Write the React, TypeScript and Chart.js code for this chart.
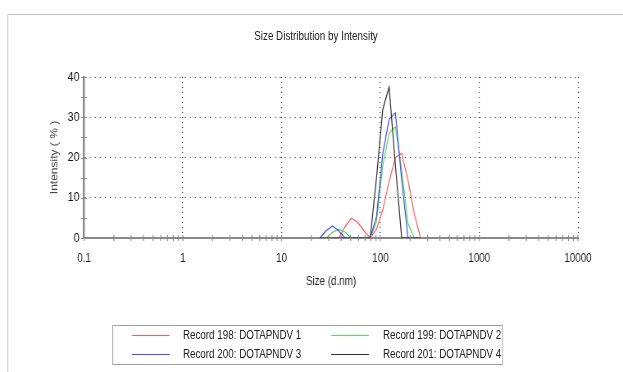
import React, { useEffect, useRef } from 'react';
import { Chart, registerables } from 'chart.js';

Chart.register(...registerables);

// ---- Data ----
const chartTitle = 'Size Distribution by Intensity';
const xAxisTitle = 'Size (d.nm)';
const yAxisTitle = 'Intensity ( % )';

const sizeBins = [24.4, 28.2, 32.7, 37.8, 43.8, 50.7, 58.8, 68.1, 78.8, 91.3, 105.7, 122.4, 141.8, 164.2, 190.1, 220.2, 255.0];
const record198 = [0, 0, 0, 0, 2.8, 4.9, 3.9, 1.8, 0, 2.2, 7, 14, 20, 21, 14.4, 6, 0];
const record199 = [0, 0, 1.4, 2.2, 1.5, 0, 0, 0, 0, 4, 18, 26, 27.6, 16.8, 3.6, 0, 0];
const record200 = [0, 1.8, 3.0, 1.8, 0, 0, 0, 0, 0, 5.3, 21, 29.5, 31.1, 14.4, 0, 0, 0];
const record201 = [0, 0, 0, 0, 0, 0, 0, 0, 0, 15, 32, 37.5, 18, 0, 0, 0, 0];

const seriesLabels = ['Record 198: DOTAPNDV 1', 'Record 199: DOTAPNDV 2', 'Record 200: DOTAPNDV 3', 'Record 201: DOTAPNDV 4'];
const seriesValues = [record198, record199, record200, record201];
const seriesColors = ['#ff5c5c', '#4fe04f', '#4a4aff', '#2e2e2e'];
const seriesOrder = [4, 3, 2, 1];

const xTickValues = [0.1, 1, 10, 100, 1000, 10000];
const xMin = 0.1;
const xMax = 10000;
const yMin = 0;
const yMax = 40;
const yStep = 10;
const yMinorStep = 5;

// The whole picture is drawn wide and squeezed horizontally (narrow-font look).
const VIEW_W = 623;
const VIEW_H = 372;
const DRAW_W = 760;
const SX = VIEW_W / DRAW_W;

const FONT = "'Liberation Sans', Arial, sans-serif";
const AXIS_COLOR = '#8a8a8a';
const GRID_COLOR = '#3c3c3c';
const TEXT_COLOR = '#222';

export default function App() {
  const ref = useRef<HTMLCanvasElement | null>(null);

  useEffect(() => {
    if (!ref.current) return;

    const minorTicks = {
      id: 'minorTicks',
      afterDraw(chart: any) {
        const c = chart.ctx;
        const xs = chart.scales.x;
        const ys = chart.scales.y;
        const y0 = ys.getPixelForValue(yMin);
        const x0 = xs.getPixelForValue(xMin);
        c.save();
        c.strokeStyle = AXIS_COLOR;
        c.beginPath();
        c.lineWidth = 1.2;
        for (const d of xTickValues) {
          for (let k = 1; k <= 9; k++) {
            const v = d * k;
            if (v > xMax * 1.0001) break;
            const px = xs.getPixelForValue(v);
            c.moveTo(px, y0 - 3);
            c.lineTo(px, y0 + 3);
          }
        }
        c.stroke();
        c.beginPath();
        c.lineWidth = 1;
        for (let v = yMin; v <= yMax; v += yMinorStep) {
          const py = Math.round(ys.getPixelForValue(v)) + 0.5;
          c.moveTo(x0 - 3.7, py);
          c.lineTo(x0 + 3.7, py);
        }
        c.stroke();
        c.restore();
      },
    };

    const chart = new Chart(ref.current, {
      type: 'line',
      data: {
        datasets: seriesLabels.map((label, i) => ({
          label,
          data: sizeBins.map((x, j) => ({ x, y: seriesValues[i][j] })),
          borderColor: seriesColors[i],
          backgroundColor: seriesColors[i],
          borderWidth: 1.2,
          pointRadius: 0,
          tension: 0,
          fill: false,
          order: seriesOrder[i],
        })),
      },
      options: {
        animation: false,
        responsive: false,
        maintainAspectRatio: false,
        devicePixelRatio: 1,
        layout: { padding: { left: 0, top: 77, right: 54.9, bottom: 74 } },
        plugins: {
          legend: { display: false },
          title: { display: false },
          tooltip: { enabled: false },
        },
        scales: {
          x: {
            type: 'logarithmic',
            min: xMin,
            max: xMax,
            z: 1,
            afterBuildTicks: (s: any) => {
              s.ticks = xTickValues.map((v) => ({ value: v }));
            },
            afterFit: (s: any) => {
              s.height = 60;
            },
            ticks: {
              autoSkip: false,
              maxRotation: 0,
              padding: 13,
              color: TEXT_COLOR,
              font: { family: FONT, size: 12 },
              callback: (v: any) => String(Number(v)),
            },
            grid: {
              drawTicks: false,
              lineWidth: 1.2,
              color: (c: any) => (c.tick && c.tick.value === xMin ? 'rgba(0,0,0,0)' : GRID_COLOR),
            },
            border: { color: AXIS_COLOR, width: 2, dash: [1, 4] },
            title: {
              display: true,
              text: xAxisTitle,
              color: TEXT_COLOR,
              font: { family: FONT, size: 12 },
              padding: { top: 0, bottom: 8.8 },
            },
          },
          y: {
            min: yMin,
            max: yMax,
            afterFit: (s: any) => {
              s.width = 102.5;
            },
            ticks: {
              stepSize: yStep,
              padding: 5.5,
              color: '#111',
              font: { family: FONT, size: 13 },
            },
            grid: {
              drawTicks: false,
              lineWidth: 1,
              color: (c: any) => (c.tick && c.tick.value === yMin ? 'rgba(0,0,0,0)' : GRID_COLOR),
            },
            border: { color: AXIS_COLOR, width: 2.4, dash: [1.2, 4.9] },
            title: {
              display: true,
              text: yAxisTitle,
              color: '#444',
              font: { family: FONT, size: 12 },
              padding: { top: 59.9, bottom: 0 },
            },
          },
        },
      },
      plugins: [minorTicks],
    } as any);

    return () => chart.destroy();
  }, []);

  const legendPos = [
    { line: 23, text: 85.5, row: 0 },
    { line: 266, text: 329.5, row: 0 },
    { line: 23, text: 85.5, row: 1 },
    { line: 266, text: 329.5, row: 1 },
  ];

  return (
    <div style={{ position: 'absolute', left: 0, top: 0, width: VIEW_W, height: VIEW_H, background: '#fff', overflow: 'hidden' }}>
      <div
        style={{
          position: 'absolute',
          left: 0,
          top: 0,
          width: DRAW_W,
          height: VIEW_H,
          transform: `scaleX(${SX})`,
          transformOrigin: '0 0',
        }}
      >
        <div
          style={{
            position: 'absolute',
            left: 8.5,
            top: 14,
            width: 900,
            height: 500,
            border: '1px solid #c4c4c4',
          }}
        />
        <canvas ref={ref} width={DRAW_W} height={VIEW_H} style={{ position: 'absolute', left: 0, top: 0, width: DRAW_W, height: VIEW_H }} />
        <div
          style={{
            position: 'absolute',
            left: 0,
            top: 29,
            width: 771,
            textAlign: 'center',
            fontFamily: FONT,
            fontSize: 12,
            lineHeight: '14px',
            color: TEXT_COLOR,
          }}
        >
          {chartTitle}
        </div>
        <div
          style={{
            position: 'absolute',
            left: 136.6,
            top: 325,
            width: 477,
            height: 40,
            boxSizing: 'border-box',
            border: '1px solid #a0a0a0',
            fontFamily: FONT,
            fontSize: 12,
            color: TEXT_COLOR,
          }}
        >
          {seriesLabels.map((label, i) => {
            const p = legendPos[i];
            const cy = p.row === 0 ? 9 : 28;
            return (
              <React.Fragment key={label}>
                <div style={{ position: 'absolute', left: p.line, top: cy, width: 46, height: 1, background: seriesColors[i] }} />
                <div style={{ position: 'absolute', left: p.text, top: cy - 7, lineHeight: '14px', whiteSpace: 'nowrap' }}>{label}</div>
              </React.Fragment>
            );
          })}
        </div>
      </div>
    </div>
  );
}
